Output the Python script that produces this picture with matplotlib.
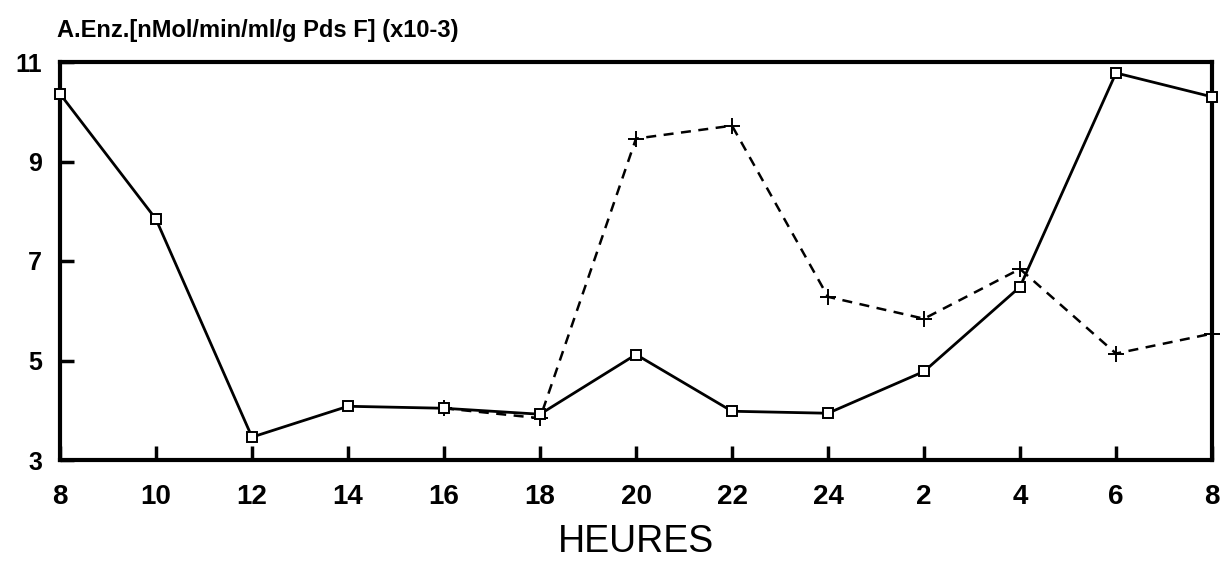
import numpy as np
import matplotlib
matplotlib.use("Agg")
import matplotlib.pyplot as plt

# Données
heures = ["8", "10", "12", "14", "16", "18", "20", "22", "24", "2", "4", "6", "8"]
serie_pleine = [10.36, 7.84, 3.46, 4.08, 4.04, 3.92, 5.12, 3.98, 3.94, 4.78, 6.48, 10.78, 10.30]
serie_tirets = [4.04, 3.84, 9.46, 9.72, 6.28, 5.84, 6.84, 5.14, 5.54]
debut_tirets = 4  # la courbe en tirets commence à 16 h
y_ticks = [3, 5, 7, 9, 11]

plt.rcParams["font.family"] = ["Liberation Sans", "DejaVu Sans"]
plt.rcParams["font.weight"] = "bold"

fig = plt.figure(figsize=(12.22, 5.61), dpi=100)
ax = fig.add_axes([60 / 1222, 1 - 460 / 561, 1152 / 1222, 398 / 561])

x = np.arange(len(heures))
xt = x[debut_tirets:debut_tirets + len(serie_tirets)]

ax.plot(xt, serie_tirets, color="black", linestyle=(0, (4, 3)), linewidth=1.8,
        marker="+", markersize=11, markeredgewidth=1.4, zorder=2, clip_on=False)
ax.plot(x, serie_pleine, color="black", linestyle="-", linewidth=2.0,
        marker="s", markersize=7, markerfacecolor="white", markeredgewidth=1.4,
        zorder=3, clip_on=False)

ax.set_xlim(0, len(heures) - 1)
ax.set_ylim(3, 11)
ax.set_xticks(x)
ax.set_xticklabels(heures)
ax.set_yticks(y_ticks)

for s in ax.spines.values():
    s.set_linewidth(3)

ax.tick_params(axis="both", direction="in", length=10, width=2.5)
ax.tick_params(axis="x", labelsize=20, pad=17)
ax.tick_params(axis="y", labelsize=18, pad=13)

ax.set_xlabel("HEURES", fontsize=27, fontweight="normal", labelpad=10)
fig.text(57 / 1222, 1 - 31 / 561, "A.Enz.[nMol/min/ml/g Pds F] (x10-3)",
         fontsize=17, ha="left", va="center")

fig.savefig("out.png", dpi=100)
